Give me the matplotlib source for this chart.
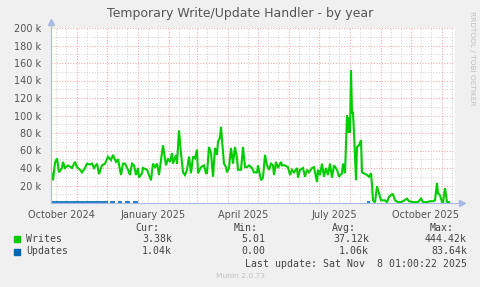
import datetime

import matplotlib
matplotlib.use('Agg')
import matplotlib.pyplot as plt
import matplotlib.dates as mdates
import numpy as np
import pandas as pd

# data: days since start date, values in thousands
start_date = datetime.date(2024, 10, 6)
write_day = [0, 2, 4, 6, 8, 11, 12, 14, 17, 21, 24, 26, 29, 31, 34, 36, 39, 41, 43,
             46, 48, 51, 54, 57, 60, 62, 65, 67, 70, 72, 74, 77, 79, 81, 83, 85, 87,
             88, 91, 92, 96, 98, 100, 102, 104, 106, 108, 110, 112, 115, 117, 119,
             121, 122, 125, 126, 128, 130, 132, 134, 136, 138, 140, 142, 144, 146,
             147, 150, 153, 155, 156, 158, 160, 162, 164, 166, 167, 169, 170, 171,
             173, 175, 176, 178, 180, 182, 184, 186, 187, 190, 192, 194, 196, 198,
             201, 203, 206, 207, 210, 212, 214, 216, 218, 220, 222, 223, 225, 227,
             230, 231, 234, 237, 239, 241, 243, 246, 247, 249, 252, 254, 256, 258,
             261, 263, 266, 267, 269, 271, 273, 275, 277, 279, 281, 283, 286, 288,
             291, 292, 294, 296, 297, 298, 299, 300, 301, 302, 303, 305, 306, 308,
             310, 311, 313, 316, 318, 320, 321, 322, 324, 326, 328, 330, 332, 334,
             336, 338, 341, 342, 344, 347, 350, 352, 356, 358, 362, 367, 370, 372,
             376, 379, 382, 384, 386, 387, 389, 391, 392, 394, 396, 398]
write_k = [36, 26, 46, 51, 35, 40, 47, 40, 43, 40, 47, 41, 38, 35, 40, 45, 44, 45, 40,
           45, 33, 43, 45, 53, 49, 55, 47, 50, 32, 45, 45, 38, 32, 45, 43, 32, 40,
           29, 34, 40, 38, 32, 26, 45, 41, 45, 32, 49, 66, 43, 51, 47,
           57, 45, 55, 45, 83, 57, 35, 32, 38, 53, 34, 53, 51, 61,
           34, 41, 43, 34, 34, 64, 57, 30, 63, 55, 70, 75, 87, 72,
           45, 41, 35, 40, 63, 45, 64, 51, 38, 38, 64, 41, 41, 43,
           40, 35, 35, 43, 26, 29, 55, 43, 38, 45, 43, 32, 47, 40,
           47, 43, 43, 41, 32, 38, 35, 40, 29, 38, 40, 30, 38, 35,
           40, 41, 24, 38, 32, 45, 30, 40, 32, 45, 29, 43, 38, 30,
           34, 45, 34, 100, 80, 98, 80, 152, 103, 103, 80, 26, 64, 66,
           72, 35, 34, 32, 30, 34, 21, 3, 0.5, 19, 11, 3, 3, 3,
           1, 7, 10, 10, 3, 1, 1, 2, 5, 2, 1, 1, 5, 1,
           1, 2, 2, 3, 23, 11, 9, 1, 1, 17, 1, 1]
# updates: short runs around 1k, gaps (no data) in between
update_day = [0, 57, 58, 59, 64, 65, 67, 71, 72, 74, 79, 80, 82, 87, 200, 316, 319]
update_k = [1.0, 1.0, np.nan, 1.0, 1.0, np.nan, 1.0, 1.0, np.nan, 1.0, 1.0, np.nan,
            1.0, 1.0, np.nan, 1.0, 1.0]

labels = ['Writes', 'Updates']
colors = ['#00cc00', '#0066b3']
cur = ['3.38k', '1.04k']
mins = ['5.01', '0.00']
avgs = ['37.12k', '1.06k']
maxs = ['444.42k', '83.64k']

W, H = 481, 287
fig = plt.figure(figsize=(W / 100, H / 100), dpi=100, facecolor='#f0f0f0')
ax = fig.add_axes([51 / W, 1 - 203 / H, 404 / W, 175 / H], facecolor='white')


def to_dates(days):
    return [pd.Timestamp(start_date) + pd.Timedelta(days=d) for d in days]


x0 = pd.Timestamp(start_date)
x1 = x0 + pd.Timedelta(days=404)
ax.set_xlim(x0, x1)
ax.set_ylim(0, 200)

# grid
red = '#f0a8a8'
gray = '#d4d4d4'
dots = (0, (1, 1.6))
for d in pd.date_range('2024-10-01', '2025-11-30', freq='D'):
    if d < x0 or d > x1:
        continue
    if d.day == 1:
        ax.axvline(d, color=red, lw=0.75, ls=dots, zorder=1)
    elif d.day in (11, 21):
        ax.axvline(d, color=gray, lw=0.75, ls=dots, zorder=0.9)
ax.set_yticks(np.arange(20, 201, 20))
ax.set_yticks(np.arange(10, 200, 20), minor=True)
ax.set_yticklabels([f'{v} k' for v in range(20, 201, 20)])
ax.grid(True, axis='y', which='major', color=red, lw=0.75, ls=dots, zorder=1)
ax.grid(True, axis='y', which='minor', color=gray, lw=0.75, ls=dots, zorder=0.9)
ax.set_axisbelow(True)

lab_dates = [pd.Timestamp(d) for d in ['2024-10-16', '2025-01-16', '2025-04-16',
                                       '2025-07-16', '2025-10-16']]
ax.set_xticks(lab_dates)
ax.set_xticklabels(['October 2024', 'January 2025', 'April 2025',
                    'July 2025', 'October 2025'])
ax.tick_params(axis='both', which='both', length=0, labelsize=7,
               labelcolor='#555555')
ax.tick_params(axis='x', pad=5)
ax.tick_params(axis='y', pad=7)

# data
ax.plot(to_dates(update_day), update_k, color=colors[1], lw=1.2, zorder=3,
        solid_capstyle='butt')
ax.plot(to_dates(write_day), write_k, color=colors[0], lw=1.5, zorder=4,
        solid_joinstyle='miter')

# axes lines with arrows
for s in ['top', 'right']:
    ax.spines[s].set_visible(False)
axis_col = '#a8b8e8'
for s in ['left', 'bottom']:
    ax.spines[s].set_color(axis_col)
    ax.spines[s].set_linewidth(0.8)
    ax.spines[s].set_zorder(5)
ax.spines['left'].set_bounds(0, 205)
ax.spines['bottom'].set_bounds(mdates.date2num(x0),
                               mdates.date2num(x0 + pd.Timedelta(days=408)))
ax.plot([0], [1.035], marker='^', ms=4, color=axis_col, transform=ax.transAxes,
        clip_on=False)
ax.plot([1.018], [0], marker='>', ms=4, color=axis_col, transform=ax.transAxes,
        clip_on=False)

# title and side text
fig.text(240 / W, 1 - 14 / H, 'Temporary Write/Update Handler - by year',
         ha='center', va='center', fontsize=9, color='#555555')
fig.text(472 / W, 1 - 58 / H, 'RRDTOOL / TOBI OETIKER', rotation=270,
         ha='center', va='center', fontsize=5.3, color='#c0c0c0')

# legend
mono = 'DejaVu Sans Mono'
fs = 7.1
tc = '#444444'


def ftext(x, y, s, **kw):
    fig.text(x / W, 1 - y / H, s, va='center', family=mono, fontsize=fs,
             color=tc, **kw)


for x, h in zip([159, 258, 356, 454], ['Cur:', 'Min:', 'Avg:', 'Max:']):
    ftext(x, 228, h, ha='right')
for i, lab in enumerate(labels):
    y = 239 + 12.5 * i
    fig.patches.append(plt.Rectangle((14 / W, 1 - (y + 3) / H), 6 / W, 6 / H,
                                     transform=fig.transFigure,
                                     color=colors[i]))
    ftext(26, y, lab, ha='left')
    ftext(172, y, cur[i], ha='right')
    ftext(265, y, mins[i], ha='right')
    ftext(369, y, avgs[i], ha='right')
    ftext(467, y, maxs[i], ha='right')
ftext(467, 264, 'Last update: Sat Nov  8 01:00:22 2025', ha='right')
fig.text(240 / W, 1 - 276 / H, 'Munin 2.0.73', ha='center', va='center',
         fontsize=5.4, color='#c0c0c0')

fig.savefig('out.png', dpi=100, facecolor=fig.get_facecolor())
